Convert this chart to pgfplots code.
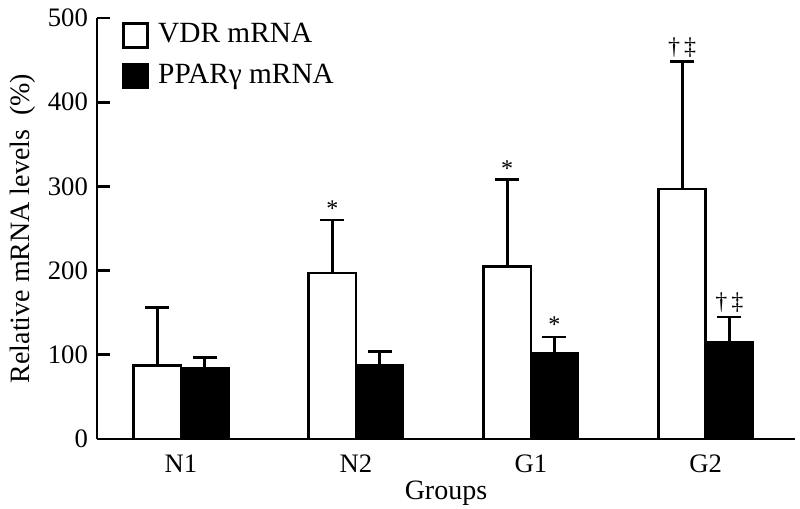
\documentclass[border=0pt]{standalone}
\usepackage{fontspec}
\setmainfont{Liberation Serif}
\usepackage{pgfplots}
\pgfplotsset{compat=1.18}
\begin{document}
\fontsize{20pt}{24pt}\selectfont
\begin{tikzpicture}
\path[use as bounding box] (-72.75pt,-52.5pt) rectangle (527.25pt,329.25pt);
\begin{axis}[
  at={(0,0)}, anchor=south west,
  scale only axis, width=523.5pt, height=315.75pt,
  xmin=-0.48, xmax=3.51, ymin=0, ymax=500,
  axis x line*=bottom, axis y line*=left,
  axis line style={line width=2.2pt,-},
  xtick={0,1,2,3}, xticklabels={N1,N2,G1,G2},
  ytick={0,100,200,300,400,500},
  tick style={line width=2pt,black},
  major tick length=10pt,
  x tick style={draw=none},
  tick align=inside,
  /pgf/number format/assume math mode=true,
  ticklabel style={font=\fontsize{20pt}{24pt}\selectfont},
  xlabel={Groups}, ylabel={Relative mRNA levels\ \ (\%)},
  label style={font=\fontsize{21pt}{24pt}\selectfont},
  xlabel style={yshift=7pt},
  ylabel style={yshift=-4pt},
  xticklabel style={yshift=5pt},
  ybar, bar width=0.27,
  legend style={at={(0.03,1.0)}, anchor=north west, draw=none, fill=none,
    font=\fontsize{22pt}{24pt}\selectfont, row sep=9pt,
    legend cell align=left, /tikz/every even column/.append style={column sep=3pt}},
  legend image code/.code={\draw[#1, line width=2pt] (0pt,-9pt) rectangle (18pt,9pt);},
  clip=false,
]
\addplot[draw=black, fill=white, line width=2pt, bar shift=-0.135,
  error bars/.cd, y dir=plus, y explicit,
  error bar style={line width=2pt},
  error mark options={line width=2pt, mark size=9pt, rotate=90}]
  coordinates {(0,87) +- (0,69) (1,197) +- (0,63) (2,205) +- (0,103) (3,297) +- (0,151)};
\addlegendentry{\hspace{5pt}VDR mRNA}
\addplot[draw=black, fill=black, line width=2pt, bar shift=0.135,
  error bars/.cd, y dir=plus, y explicit,
  error bar style={line width=2pt},
  error mark options={line width=2pt, mark size=9pt, rotate=90}]
  coordinates {(0,84) +- (0,13) (1,88) +- (0,16) (2,102) +- (0,19) (3,115) +- (0,30)};
\addlegendentry{\hspace{5pt}PPARγ mRNA}
\node[anchor=south, font=\fontsize{18pt}{20pt}\selectfont, inner sep=1pt] at (axis cs:0.865,262) {*};
\node[anchor=south, font=\fontsize{18pt}{20pt}\selectfont, inner sep=1pt] at (axis cs:1.865,310) {*};
\node[anchor=south, font=\fontsize{18pt}{20pt}\selectfont, inner sep=1pt] at (axis cs:2.135,124) {*};
\node[anchor=south, font=\fontsize{18pt}{20pt}\selectfont, inner sep=1pt] at (axis cs:2.865,452) {†\,‡};
\node[anchor=south, font=\fontsize{18pt}{20pt}\selectfont, inner sep=1pt] at (axis cs:3.135,149) {†\,‡};
\end{axis}
\end{tikzpicture}
\end{document}
